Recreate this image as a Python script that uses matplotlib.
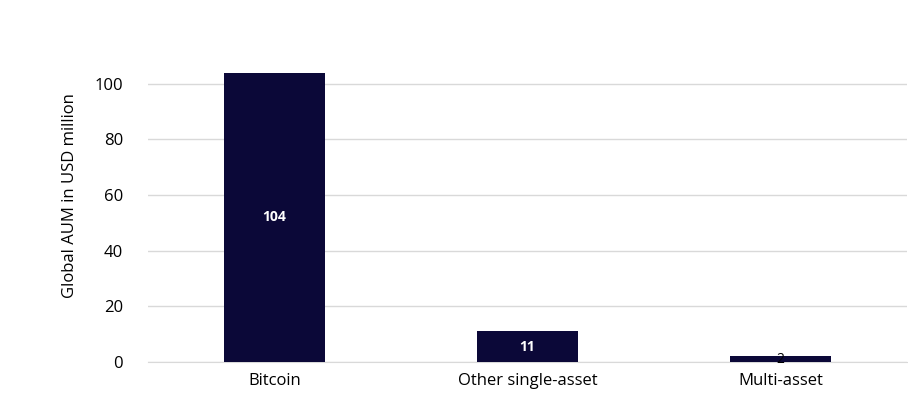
import matplotlib.pyplot as plt

categories = ["Bitcoin", "Other single-asset", "Multi-asset"]
aum = [104, 11, 2]
label_colors = ["white", "white", "black"]

plt.rcParams["font.family"] = ["Open Sans", "DejaVu Sans"]

fig = plt.figure(figsize=(9.08, 4.2), dpi=100)
ax = fig.add_axes([0.163, 0.138, 0.836, 0.795])

x = range(len(categories))
ax.bar(x, aum, width=0.4, color="#0b0838", zorder=3)
for i, v in enumerate(aum):
    ax.text(i, v / 2, str(v), ha="center", va="center", color=label_colors[i],
            fontsize=10, fontweight="bold" if v > 5 else "normal", zorder=4)

ax.set_xlim(-0.5, 2.5)
ax.set_ylim(0, 120)
ax.set_yticks([0, 20, 40, 60, 80, 100])
ax.set_xticks(list(x))
ax.set_xticklabels(categories, fontsize=12)
ax.tick_params(axis="y", labelsize=12, length=0, pad=18)
ax.tick_params(axis="x", length=0, pad=8)
ax.grid(axis="y", color="#d9d9d9", linewidth=1, zorder=0)
for s in ["top", "right", "left"]:
    ax.spines[s].set_visible(False)
ax.spines["bottom"].set_color("#d9d9d9")
ax.set_ylabel("Global AUM in USD million", fontsize=12, labelpad=12)

fig.savefig("out.png", dpi=100)
